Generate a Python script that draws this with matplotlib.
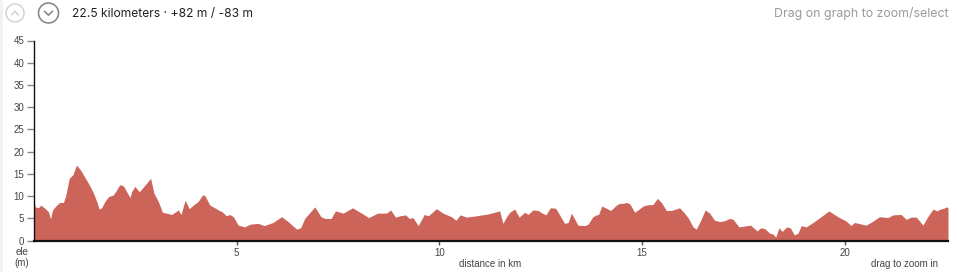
import matplotlib
matplotlib.use("Agg")
import matplotlib.pyplot as plt
from matplotlib.patches import Circle

# ---- data ----
distance_km = [0.00, 0.03, 0.11, 0.17, 0.27, 0.36, 0.41, 0.46, 0.56, 0.64, 0.73, 0.79, 0.87, 0.96,
               1.05, 1.15, 1.26, 1.37, 1.47, 1.55, 1.61, 1.67, 1.75, 1.84, 1.96, 2.04, 2.12, 2.21,
               2.29, 2.37, 2.41, 2.49, 2.60, 2.74, 2.88, 2.96, 3.07, 3.17, 3.27, 3.40, 3.48, 3.56,
               3.63, 3.73, 3.83, 3.93, 4.05, 4.16, 4.22, 4.34, 4.46, 4.59, 4.63, 4.75, 4.83, 4.92,
               5.04, 5.20, 5.33, 5.53, 5.68, 5.90, 6.11, 6.27, 6.48, 6.58, 6.68, 6.93, 7.08, 7.18,
               7.33, 7.44, 7.63, 7.86, 8.08, 8.26, 8.48, 8.70, 8.80, 8.92, 9.03, 9.17, 9.26, 9.35,
               9.48, 9.63, 9.73, 9.93, 10.09, 10.30, 10.41, 10.52, 10.67, 10.92, 11.20, 11.49, 11.57,
               11.66, 11.74, 11.86, 11.97, 12.11, 12.19, 12.31, 12.44, 12.54, 12.63, 12.74, 12.87,
               12.97, 13.09, 13.18, 13.26, 13.42, 13.59, 13.67, 13.79, 13.88, 13.93, 14.01, 14.12,
               14.23, 14.37, 14.45, 14.55, 14.61, 14.70, 14.82, 14.90, 15.03, 15.15, 15.27, 15.38,
               15.48, 15.60, 15.73, 15.93, 16.05, 16.15, 16.26, 16.34, 16.45, 16.56, 16.67, 16.79,
               16.92, 17.04, 17.16, 17.25, 17.39, 17.61, 17.68, 17.84, 17.93, 18.03, 18.15, 18.23,
               18.30, 18.38, 18.46, 18.57, 18.66, 18.76, 18.85, 18.93, 19.05, 19.22, 19.42, 19.61,
               19.83, 20.04, 20.16, 20.24, 20.53, 20.70, 20.86, 21.07, 21.19, 21.39, 21.52, 21.64,
               21.77, 21.93, 22.05, 22.18, 22.28, 22.36, 22.45, 22.51, 22.55]
elevation_m = [9.5, 7.6, 7.4, 8.0, 7.3, 6.5, 4.9, 6.9, 8.0, 8.6, 8.6, 10.3, 14.0, 14.8,
               17.0, 15.9, 14.2, 12.5, 10.7, 8.8, 7.1, 7.4, 8.8, 9.9, 10.3, 11.4, 12.6, 12.3,
               11.0, 9.7, 11.0, 12.2, 11.0, 12.5, 14.0, 10.7, 8.8, 6.4, 6.2, 5.9, 6.4, 6.9,
               5.9, 9.1, 7.2, 8.0, 8.8, 10.3, 10.1, 8.0, 7.4, 6.7, 6.6, 5.6, 5.9, 5.4,
               3.5, 3.1, 3.7, 3.9, 3.4, 4.1, 5.4, 4.3, 2.6, 2.9, 5.0, 7.6, 5.4, 5.0,
               5.0, 6.7, 6.2, 7.4, 6.2, 5.2, 6.2, 6.2, 6.9, 5.3, 5.6, 5.8, 5.0, 5.2,
               3.4, 5.9, 5.6, 7.2, 6.2, 5.4, 4.6, 5.8, 5.3, 5.6, 6.0, 6.7, 3.9,
               5.4, 6.4, 7.1, 5.3, 6.4, 5.9, 6.9, 6.8, 6.2, 5.8, 7.4, 7.3,
               5.8, 3.9, 4.1, 6.2, 3.5, 3.4, 3.7, 5.4, 5.8, 5.9, 7.8, 7.3,
               6.8, 8.0, 8.4, 8.4, 8.6, 8.3, 6.4, 6.9, 7.8, 8.1, 8.1, 9.5,
               8.6, 6.8, 6.8, 7.4, 6.2, 5.0, 3.1, 2.6, 4.6, 6.9, 6.2, 4.6,
               4.3, 4.5, 5.0, 4.8, 3.1, 3.4, 3.5, 2.2, 2.9, 2.7, 1.7, 1.5,
               0.8, 2.9, 2.1, 3.1, 2.9, 1.3, 1.7, 3.4, 3.1, 4.1, 5.4, 6.7,
               5.4, 4.4, 3.4, 4.1, 3.5, 4.4, 5.4, 5.2, 5.8, 5.9, 4.8, 5.3,
               5.3, 3.5, 5.4, 7.1, 6.7, 7.1, 7.3, 7.6, 7.4]
x_ticks = [5, 10, 15, 20]
y_ticks = [0, 5, 10, 15, 20, 25, 30, 35, 40, 45]
summary_text = "22.5 kilometers \u00b7 +82 m / -83 m"
hint_text = "Drag on graph to zoom/select"
x_label = "distance in km"
zoom_text = "drag to zoom in"

W, H = 957, 272
fig = plt.figure(figsize=(W / 100, H / 100), dpi=100)
fig.patch.set_facecolor("white")

TICK_FONT = "Liberation Sans"
HEAD_FONT = "Inter"

# main axes in pixel placement
left_px, right_px, top_px, bottom_px = 33.9, 948.0, 40.5, 240.7
ax = fig.add_axes([left_px / W, (H - bottom_px) / H, (right_px - left_px) / W, (bottom_px - top_px) / H])
ax.fill_between(distance_km, elevation_m, 0, color="#cd645a", linewidth=0)
ax.set_xlim(0, 22.55)
ax.set_ylim(0, 45)
for s in ["top", "right"]:
    ax.spines[s].set_visible(False)
ax.spines["left"].set_color("#111111")
ax.spines["left"].set_linewidth(1.0)
ax.spines["bottom"].set_color("#111111")
ax.spines["bottom"].set_linewidth(1.6)
ax.set_yticks(y_ticks)
ax.set_yticklabels([str(v) for v in y_ticks], fontsize=7, family=TICK_FONT, color="#444444")
ax.set_xticks(x_ticks)
ax.set_xticklabels([str(v) for v in x_ticks], fontsize=7, family=TICK_FONT, color="#444444")
ax.tick_params(axis="y", length=5, width=1, color="#888888", pad=2)
ax.tick_params(axis="x", length=3, width=1, color="#555555", pad=2)

# overlay in pixel coordinates
ov = fig.add_axes([0, 0, 1, 1], zorder=5)
ov.set_xlim(0, W)
ov.set_ylim(H, 0)
ov.axis("off")
ov.patch.set_alpha(0)

# left edge shading
ov.add_patch(plt.Rectangle((0, 0), 3, H, color="#f2f2f2", linewidth=0))

# icons
ov.add_patch(Circle((15, 13), 9, fill=False, edgecolor="#d0d0d0", linewidth=1.0))
ov.plot([11.5, 15, 18.5], [14.8, 11.3, 14.8], color="#d0d0d0", linewidth=1.0, solid_capstyle="round")
ov.add_patch(Circle((48.5, 13), 10, fill=False, edgecolor="#8a8a8a", linewidth=1.2))
ov.plot([44.5, 48.5, 52.5], [11.3, 15.2, 11.3], color="#8a8a8a", linewidth=1.2, solid_capstyle="round")

ov.text(72, 13.5, summary_text, fontsize=8.7, family=HEAD_FONT, color="#222222", ha="left", va="center")
ov.text(948, 13.5, hint_text, fontsize=8.9, family=HEAD_FONT, color="#9a9a9a", ha="right", va="center")

ov.text(22, 252, "ele", fontsize=7, family=TICK_FONT, color="#444444", ha="center", va="center")
ov.text(22, 263, "(m)", fontsize=7, family=TICK_FONT, color="#444444", ha="center", va="center")
ov.text(490, 264, x_label, fontsize=7, family=TICK_FONT, color="#444444", ha="center", va="center")
ov.text(938, 264, zoom_text, fontsize=7, family=TICK_FONT, color="#444444", ha="right", va="center")

fig.savefig("out.png", dpi=100, facecolor="white")
